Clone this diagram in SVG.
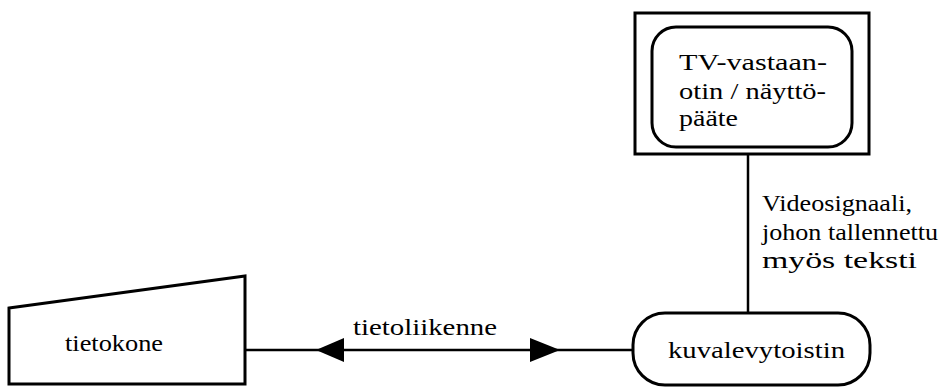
<svg xmlns="http://www.w3.org/2000/svg" width="948" height="387" viewBox="0 0 948 387">
  <defs>
    <style>
      .shape { fill: none; stroke: #000; stroke-width: 3; }
      .wire { fill: none; stroke: #000; stroke-width: 2.5; }
      .head { fill: #000; stroke: none; }
      .label { font-family: "Liberation Serif", "Times New Roman", serif; font-size: 24px; fill: #000; }
    </style>
  </defs>
  <rect width="948" height="387" fill="#fff"/>

  <!-- connectors -->
  <g id="connectors">
    <line class="wire" x1="245" y1="350" x2="633" y2="350"/>
    <path class="head" d="M316,350 L344,338 L344,362 Z"/>
    <path class="head" d="M560,350 L530,338 L530,362 Z"/>
    <line class="wire" x1="748" y1="154" x2="748" y2="313"/>
    <text class="label" x="353" y="335" textLength="144" lengthAdjust="spacingAndGlyphs">tietoliikenne</text>
    <text class="label" x="762" y="211" textLength="150" lengthAdjust="spacingAndGlyphs">Videosignaali,</text>
    <text class="label" x="762" y="240" textLength="176" lengthAdjust="spacingAndGlyphs">johon tallennettu</text>
    <text class="label" x="762" y="268" textLength="155" lengthAdjust="spacingAndGlyphs">myös teksti</text>
  </g>

  <!-- computer -->
  <g id="tietokone">
    <path class="shape" d="M9,308 L245,276 L245,384 L9,384 Z"/>
    <text class="label" x="65" y="351" textLength="98" lengthAdjust="spacingAndGlyphs">tietokone</text>
  </g>

  <!-- TV receiver / display terminal -->
  <g id="tv">
    <rect class="shape" x="635" y="13" width="234" height="141"/>
    <rect class="shape" x="652" y="27" width="200" height="120" rx="24" ry="24"/>
    <text class="label" x="679" y="70" textLength="148" lengthAdjust="spacingAndGlyphs">TV-vastaan-</text>
    <text class="label" x="679" y="99" textLength="147" lengthAdjust="spacingAndGlyphs">otin / näyttö-</text>
    <text class="label" x="679" y="126" textLength="59" lengthAdjust="spacingAndGlyphs">pääte</text>
  </g>

  <!-- videodisc player -->
  <g id="kuvalevytoistin">
    <rect class="shape" x="633" y="313" width="237" height="72" rx="32" ry="32"/>
    <text class="label" x="668" y="358" textLength="177" lengthAdjust="spacingAndGlyphs">kuvalevytoistin</text>
  </g>
</svg>
